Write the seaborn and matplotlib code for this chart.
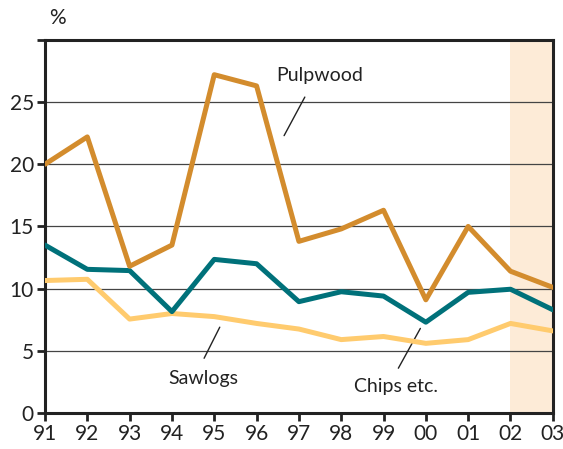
import matplotlib
matplotlib.use("Agg")
import matplotlib.pyplot as plt
import seaborn as sns
import pandas as pd

years = ["91", "92", "93", "94", "95", "96", "97", "98", "99", "00", "01", "02", "03"]
pulpwood = [20.0, 22.2, 11.8, 13.5, 27.2, 26.3, 13.8, 14.8, 16.3, 9.1, 15.0, 11.4, 10.1]
chips = [13.5, 11.55, 11.45, 8.15, 12.35, 12.0, 8.95, 9.75, 9.4, 7.3, 9.7, 9.95, 8.3]
sawlogs = [10.65, 10.75, 7.55, 8.0, 7.75, 7.2, 6.75, 5.9, 6.15, 5.6, 5.9, 7.2, 6.6]
y_ticks = [0, 5, 10, 15, 20, 25, 30]
y_labels = ["0", "5", "10", "15", "20", "25", ""]

idx = list(range(len(years)))
df = pd.concat([
    pd.DataFrame({"x": idx, "value": sawlogs, "series": "Sawlogs"}),
    pd.DataFrame({"x": idx, "value": chips, "series": "Chips etc."}),
    pd.DataFrame({"x": idx, "value": pulpwood, "series": "Pulpwood"}),
])

sns.set_style("white")
plt.rcParams["font.family"] = ["Lato", "DejaVu Sans"]

fig = plt.figure(figsize=(5.63, 4.49), dpi=100)
ax = fig.add_axes([0.0799, 0.0802, 0.902, 0.831])

palette = {"Sawlogs": "#FFCB6E", "Chips etc.": "#00717A", "Pulpwood": "#D38C2D"}
sns.lineplot(data=df, x="x", y="value", hue="series", palette=palette,
             linewidth=3.6, ax=ax, legend=False, zorder=3)

ax.axvspan(idx[-2], idx[-1], color="#FDEBD7", zorder=0.2, lw=0)
ax.set_axisbelow(True)
ax.yaxis.grid(True, color="#444444", linewidth=0.9)
ax.xaxis.grid(False)

ax.set_xlim(idx[0], idx[-1])
ax.set_ylim(0, 30)
ax.set_xticks(idx)
ax.set_xticklabels(years)
ax.set_yticks(y_ticks)
ax.set_yticklabels(y_labels)
ax.set_xlabel("")
ax.set_ylabel("")
for s in ax.spines.values():
    s.set_linewidth(2.2)
    s.set_color("#222222")
    s.set_visible(True)
ax.tick_params(axis="both", direction="out", length=6, width=2, color="#222222",
               labelsize=15, labelcolor="#222222", pad=2)
ax.tick_params(axis="x", bottom=True)
ax.tick_params(axis="y", left=True)

fig.text(57 / 563, 1 - 18 / 449, "%", fontsize=15, ha="center", va="center", color="#222222")

# annotations
ax.text(6.5, 27.1, "Pulpwood", fontsize=14, ha="center", va="center", color="#222222")
ax.plot([6.14, 5.65], [25.4, 22.3], color="#222222", lw=1)
ax.text(3.75, 2.8, "Sawlogs", fontsize=14, ha="center", va="center", color="#222222")
ax.plot([4.13, 3.76], [6.9, 4.4], color="#222222", lw=1)
ax.text(8.3, 2.1, "Chips etc.", fontsize=14, ha="center", va="center", color="#222222")
ax.plot([8.87, 8.35], [6.8, 3.6], color="#222222", lw=1)

fig.savefig("out.png", dpi=100)
